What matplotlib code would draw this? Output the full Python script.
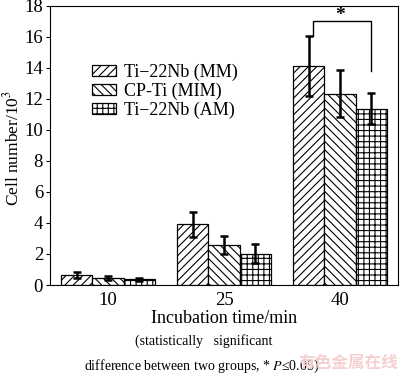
import numpy as np
import matplotlib
matplotlib.use('Agg')
import matplotlib.pyplot as plt

times = ['10', '25', '40']
groups = ['Ti\u221222Nb (MM)', 'CP-Ti (MIM)', 'Ti\u221222Nb (AM)']
means = [
    [0.64, 3.9, 14.1],
    [0.45, 2.6, 12.33],
    [0.38, 2.03, 11.37],
]
errs = [
    [0.18, 0.8, 1.92],
    [0.1, 0.58, 1.5],
    [0.1, 0.58, 0.97],
]
hatches = ['////', '\\\\\\\\', '+++']

plt.rcParams['font.family'] = ['Liberation Serif', 'DejaVu Serif']
plt.rcParams['hatch.linewidth'] = 0.8
plt.rcParams['mathtext.fontset'] = 'stix'

fig = plt.figure(figsize=(4.0, 3.76), dpi=100)
ax = fig.add_axes([0.125, 0.242, 0.87, 0.743])

x = np.arange(len(times))
w = 0.268
for i, g in enumerate(groups):
    xi = x + (i - 1) * w
    ax.bar(xi, means[i], w, color='white', edgecolor='black', lw=0.9,
           hatch=hatches[i], label=g, zorder=2)
    ax.errorbar(xi, means[i], yerr=errs[i], fmt='none', ecolor='black',
                elinewidth=1.8, capsize=3, capthick=1.8, zorder=3)

# significance bracket between MM and AM at 40 min
x_l = x[2] - w + 0.035
x_r = x[2] + w
top_l = means[0][2] + errs[0][2]
ax.plot([x_l, x_l, x_r, x_r], [top_l, 17.0, 17.0, 13.8], color='black', lw=1.0, zorder=3)
ax.text((x_l + x_r) / 2 - 0.015, 17.35, '*', ha='center', va='center', fontsize=14,
        fontweight='bold')

ax.set_xlim(-0.5, 2.5)
ax.set_ylim(0, 18)
ax.set_xticks(x)
ax.set_xticklabels(times)
ax.set_yticks(np.arange(0, 19, 2))
ax.tick_params(axis='x', length=0, labelsize=13.5, pad=5)
ax.tick_params(axis='y', length=3, direction='out', labelsize=13.5, pad=2)
ax.set_ylabel('Cell number/10$^3$', fontsize=12.5)
ax.yaxis.set_label_coords(-0.078, 0.49)
ax.set_xlabel('Incubation time/min', fontsize=13, labelpad=1)

ax.legend(loc='center left', bbox_to_anchor=(0.121, 0.694), frameon=False,
          fontsize=13, handlelength=1.35, handleheight=0.55, handletextpad=0.4,
          labelspacing=0.08, borderpad=0, borderaxespad=0)

fig.text(0.508, 0.093, '(statistically   significant', ha='center', va='center', fontsize=10)
fig.text(0.505, 0.027, 'difference between two groups, * $\\it{P}$\u22640.05)', ha='center',
         va='center', fontsize=10)
fig.text(0.87, 0.035, '有色金属在线', ha='center', va='center', fontsize=12,
         color='#f6d0d0', family=['Noto Sans CJK SC', 'DejaVu Sans'], fontweight='bold')

fig.savefig('out.png', dpi=100)
